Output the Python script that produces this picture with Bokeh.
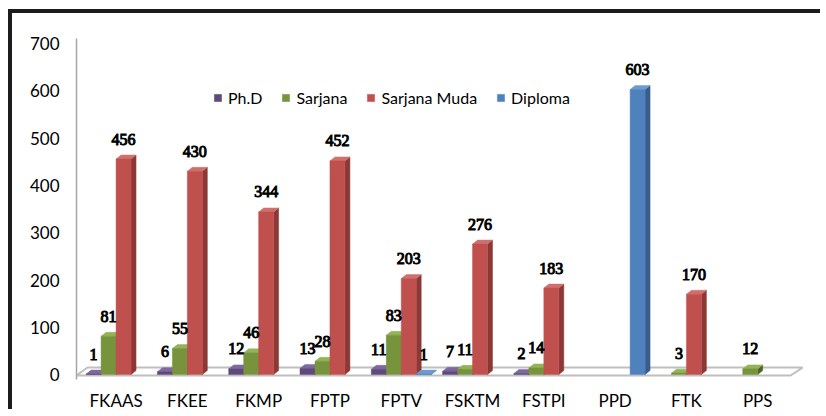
from bokeh.plotting import figure
from bokeh.models import (ColumnDataSource, Range1d, FixedTicker, LabelSet,
                          Legend, LegendItem)
from bokeh.embed import file_html
from bokeh.resources import INLINE

# ---- data ----
categories = ["FKAAS", "FKEE", "FKMP", "FPTP", "FPTV", "FSKTM", "FSTPI", "PPD", "FTK", "PPS"]
series_names = ["Ph.D", "Sarjana", "Sarjana Muda", "Diploma"]
phd = [1, 6, 12, 13, 11, 7, 2, 0, 0, 0]
sarjana = [81, 55, 46, 28, 83, 11, 14, 0, 3, 12]
sarjana_muda = [456, 430, 344, 452, 203, 276, 183, 0, 170, 0]
diploma = [0, 0, 0, 0, 1, 0, 0, 603, 0, 0]
y_ticks = [0, 100, 200, 300, 400, 500, 600, 700]

series_values = [phd, sarjana, sarjana_muda, diploma]

# ---- styles ----
front_colors = ["#5F497A", "#77933C", "#C0504D", "#4F81BD"]
top_colors = ["#7E68A0", "#93B356", "#D0706D", "#6F9AD0"]
side_colors = ["#3F3151", "#4F6228", "#8C3836", "#385D8A"]
FONT = "Lato"
LABEL_FONT = "Roboto"

bar_w = 0.21
offsets = [-0.315, -0.105, 0.105, 0.315]
dx = 0.07   # depth in x (data units)
dv = 8.4    # depth in y (data units)

x_start, x_end = -0.555, 9.684
y_start, y_end = -10.5, 711.0

p = figure(width=812, height=400, output_backend="svg", toolbar_location=None,
           x_range=Range1d(x_start, x_end), y_range=Range1d(y_start, y_end),
           min_border_left=64, min_border_right=18, min_border_top=25,
           min_border_bottom=33)
p.styles = {"margin-left": "8px", "margin-top": "9px",
            "border-top": "4px solid #1c1c1c", "border-left": "4px solid #1c1c1c"}
p.outline_line_color = None
p.xgrid.visible = False
p.ygrid.visible = False
p.background_fill_color = "white"
p.border_fill_color = "white"

# floor of the 3D chart
n = len(categories)
floor_x = [x_start, n - 0.54, n - 0.37, x_start + 0.155]
floor_y = [-2, -2, 14.8, 14.8]
p.patch(floor_x, floor_y, fill_color="white", line_color="#BFBFBF", line_width=2)

legend_items = []
for s, (name, vals) in enumerate(zip(series_names, series_values)):
    xs, vs, txt = [], [], []
    for i, v in enumerate(vals):
        if v > 0:
            xs.append(i + offsets[s])
            vs.append(v)
            txt.append(str(v))
    side_xs, side_ys, top_xs, top_ys = [], [], [], []
    for x, v in zip(xs, vs):
        r = x + bar_w / 2
        l = x - bar_w / 2
        side_xs.append([r, r + dx, r + dx, r])
        side_ys.append([0, dv, v + dv, v])
        top_xs.append([l, r, r + dx, l + dx])
        top_ys.append([v, v, v + dv, v + dv])
    p.patches(side_xs, side_ys, fill_color=side_colors[s], line_color=side_colors[s], line_width=0.5)
    p.patches(top_xs, top_ys, fill_color=top_colors[s], line_color=top_colors[s], line_width=0.5)
    src = ColumnDataSource(dict(x=xs, top=vs, text=txt))
    r_front = p.vbar(x="x", top="top", bottom=0, width=bar_w, source=src,
                     fill_color=front_colors[s], line_color=front_colors[s], line_width=0.5)
    legend_items.append(LegendItem(label=name, renderers=[r_front]))
    labels = LabelSet(x="x", y="top", text="text", source=src, y_offset=20,
                      text_align="center", text_baseline="middle",
                      text_font=LABEL_FONT, text_font_size="16px",
                      text_color="black", text_outline_color="black")
    p.add_layout(labels)

legend = Legend(items=legend_items, orientation="horizontal", location=(137, 272))
legend.padding = 0
legend.margin = 0
legend.spacing = 19
legend.border_line_color = None
legend.background_fill_alpha = 0
legend.glyph_width = 9
legend.glyph_height = 9
legend.label_standoff = 6
legend.label_text_font = FONT
legend.label_text_font_size = "16px"
legend.label_text_color = "black"
p.add_layout(legend, "center")

# axes
p.yaxis.ticker = FixedTicker(ticks=y_ticks)
p.yaxis.axis_line_color = "#A6A6A6"
p.yaxis.axis_line_width = 1.5
p.yaxis.major_tick_line_color = None
p.yaxis.minor_tick_line_color = None
p.yaxis.major_tick_out = 0
p.yaxis.major_tick_in = 0
p.yaxis.major_label_standoff = 17
p.yaxis.major_label_text_font = FONT
p.yaxis.major_label_text_font_size = "17px"
p.yaxis.major_label_text_color = "black"

p.xaxis.ticker = FixedTicker(ticks=list(range(n)))
p.xaxis.major_label_overrides = {i: c for i, c in enumerate(categories)}
p.xaxis.axis_line_color = None
p.xaxis.major_tick_line_color = None
p.xaxis.minor_tick_line_color = None
p.xaxis.major_tick_out = 0
p.xaxis.major_tick_in = 0
p.xaxis.major_label_standoff = 10
p.xaxis.major_label_text_font = FONT
p.xaxis.major_label_text_font_size = "17px"
p.xaxis.major_label_text_color = "black"

open("out.html", "w").write(file_html(p, INLINE))
